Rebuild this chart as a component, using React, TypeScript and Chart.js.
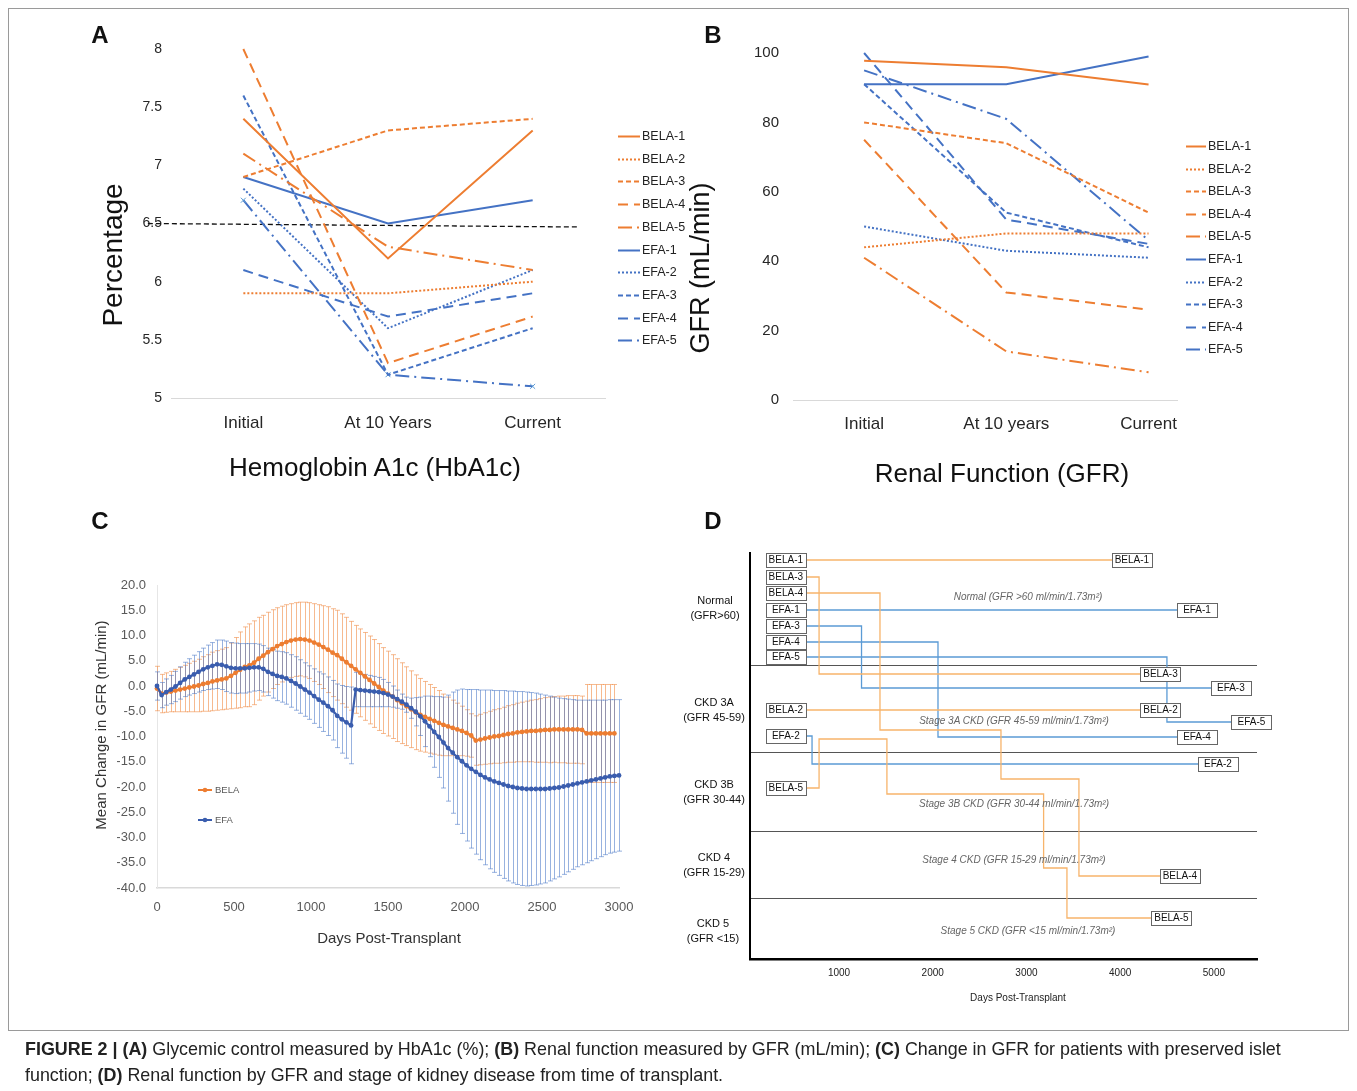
import React, { useEffect, useRef } from "react";
import { Chart, registerables } from "chart.js";
Chart.register(...registerables);

const PAGE_W = 1341;
const PAGE_H = 1075;
const OFF = 8;
const FONT = "'Liberation Sans', Arial, sans-serif";
const ORANGE = "#ED7D31";
const BLUE = "#4472C4";

// ---------- Panel A: HbA1c ----------
const hbCategories = ["Initial", "At 10 Years", "Current"];
const hbTicks = [5, 5.5, 6, 6.5, 7, 7.5, 8];
const hbBELA1 = [7.4, 6.2, 7.3];
const hbBELA2 = [5.9, 5.9, 6.0];
const hbBELA3 = [6.9, 7.3, 7.4];
const hbBELA4 = [8.0, 5.3, 5.7];
const hbBELA5 = [7.1, 6.3, 6.1];
const hbEFA1 = [6.9, 6.5, 6.7];
const hbEFA2 = [6.8, 5.6, 6.1];
const hbEFA3 = [7.6, 5.2, 5.6];
const hbEFA4 = [6.1, 5.7, 5.9];
const hbEFA5 = [6.7, 5.2, 5.1];
const hbTarget = [6.5, 6.47];
const hbTargetSpan = [-0.66, 2.32];

// ---------- Panel B: GFR ----------
const gfrCategories = ["Initial", "At 10 years", "Current"];
const gfrTicks = [0, 20, 40, 60, 80, 100];
const gfrBELA1 = [97.8, 95.9, 90.9];
const gfrBELA2 = [44, 48, 48];
const gfrBELA3 = [80, 74, 54];
const gfrBELA4 = [75, 31, 26];
const gfrBELA5 = [41, 14, 8];
const gfrEFA1 = [91, 91, 99];
const gfrEFA2 = [50, 43, 41];
const gfrEFA3 = [91, 54, 44];
const gfrEFA4 = [100, 52, 45];
const gfrEFA5 = [95, 81, 46];

const seriesNames = ["BELA-1", "BELA-2", "BELA-3", "BELA-4", "BELA-5", "EFA-1", "EFA-2", "EFA-3", "EFA-4", "EFA-5"];
const dashStyles = [[], [2, 2], [5, 3], [10, 6], [14, 5, 2, 5]];

// ---------- Panel C: mean change in GFR ----------
const days = [0, 30, 60, 90, 120, 150, 180, 210, 240, 270, 300, 330, 360, 390, 420, 450, 480, 510, 540, 570,
  600, 630, 660, 690, 720, 750, 780, 810, 840, 870, 900, 930, 960, 990, 1020, 1050, 1080, 1110, 1140, 1170,
  1200, 1230, 1260, 1290, 1320, 1350, 1380, 1410, 1440, 1470, 1500, 1530, 1560, 1590, 1620, 1650, 1680, 1710, 1740, 1770,
  1800, 1830, 1860, 1890, 1920, 1950, 1980, 2010, 2040, 2070, 2100, 2130, 2160, 2190, 2220, 2250, 2280, 2310, 2340, 2370,
  2400, 2430, 2460, 2490, 2520, 2550, 2580, 2610, 2640, 2670, 2700, 2730, 2760, 2790, 2820, 2850, 2880, 2910, 2940, 2970, 3000];
const belaMean = [-0.5, -1.5, -1.3, -1.1, -0.9, -0.7, -0.5, -0.3, -0.1, 0.1,
  0.4, 0.6, 0.9, 1.1, 1.3, 1.5, 2.0, 2.6, 3.2, 3.8,
  4.1, 4.6, 5.4, 6.0, 6.7, 7.3, 7.9, 8.3, 8.7, 9.0,
  9.2, 9.3, 9.2, 9.0, 8.6, 8.2, 7.7, 7.2, 6.6, 6.1,
  5.4, 4.7, 4.0, 3.3, 2.6, 1.9, 1.2, 0.5, -0.2, -0.9,
  -1.5, -2.1, -2.8, -3.4, -4.0, -4.6, -5.2, -5.7, -6.1, -6.5,
  -6.9, -7.3, -7.7, -8.0, -8.3, -8.6, -8.9, -9.3, -9.8, -10.8,
  -10.6, -10.4, -10.2, -10.0, -9.9, -9.7, -9.5, -9.4, -9.2, -9.1,
  -9.0, -8.9, -8.9, -8.8, -8.7, -8.7, -8.6, -8.6, -8.6, -8.6,
  -8.6, -8.6, -8.7, -9.4, -9.4, -9.4, -9.4, -9.4, -9.4, -9.4, null];
const belaErr = [4.4, 3.8, 3.9, 4.0, 4.2, 4.4, 4.6, 4.8, 5.0, 5.2,
  5.4, 5.6, 5.8, 5.9, 6.0, 6.1, 6.5, 7.0, 7.5, 7.9,
  8.2, 8.3, 8.2, 8.0, 7.9, 7.8, 7.6, 7.5, 7.4, 7.3,
  7.3, 7.3, 7.4, 7.5, 7.7, 7.9, 8.2, 8.5, 8.7, 8.9,
  8.9, 8.9, 8.8, 8.7, 8.7, 8.7, 8.7, 8.7, 8.6, 8.5,
  8.4, 8.3, 8.2, 8.0, 7.8, 7.6, 7.4, 7.2, 7.0, 6.8,
  6.6, 6.4, 6.1, 5.8, 5.5, 5.2, 4.9, 4.6, 4.3, 4.9,
  5.0, 5.1, 5.2, 5.3, 5.4, 5.5, 5.6, 5.7, 5.8, 5.9,
  6.0, 6.1, 6.2, 6.3, 6.4, 6.5, 6.5, 6.6, 6.6, 6.7,
  6.7, 6.7, 6.7, 9.7, 9.7, 9.7, 9.7, 9.7, 9.7, 9.7, null];
const efaMean = [0, -1.8, -1.2, -0.7, -0.1, 0.6, 1.3, 1.8, 2.3, 2.8,
  3.3, 3.7, 4.0, 4.3, 4.2, 3.9, 3.6, 3.5, 3.5, 3.5,
  3.6, 3.7, 3.7, 3.4, 2.8, 2.4, 2.0, 1.8, 1.5, 1.0,
  0.5, -0.1, -0.7, -1.3, -2.0, -2.7, -3.3, -4.0, -4.8, -5.9,
  -6.6, -7.2, -7.8, -0.7, -0.8, -0.9, -1.0, -1.1, -1.2, -1.4,
  -1.7, -2.1, -2.6, -3.1, -3.7, -4.4, -5.1, -6.0, -7.0, -8.0,
  -9.1, -10.1, -11.2, -12.3, -13.2, -14.1, -14.9, -15.7, -16.4, -17.0,
  -17.6, -18.1, -18.5, -18.9, -19.2, -19.5, -19.8, -20.0, -20.2, -20.3,
  -20.4, -20.4, -20.4, -20.4, -20.4, -20.3, -20.2, -20.1, -19.9, -19.7,
  -19.5, -19.3, -19.1, -18.9, -18.7, -18.5, -18.3, -18.1, -17.9, -17.8, -17.7];
const efaErr = [2.8, 2.5, 2.6, 2.8, 3.0, 3.2, 3.4, 3.6, 3.8, 4.0,
  4.2, 4.4, 4.6, 4.8, 4.9, 5.0, 5.0, 5.0, 4.9, 4.9,
  4.8, 4.7, 4.6, 4.6, 4.7, 4.8, 4.9, 5.0, 5.1, 5.2,
  5.3, 5.3, 5.3, 5.3, 5.4, 5.5, 5.7, 5.8, 5.9, 6.3,
  6.7, 7.1, 7.6, 3.4, 3.3, 3.2, 3.1, 3.0, 2.9, 2.7,
  2.4, 2.1, 1.8, 1.5, 1.5, 2.0, 2.8, 3.8, 5.0, 6.0,
  7.0, 8.0, 9.0, 10.5, 12.0, 13.3, 14.3, 15.0, 15.7, 16.3,
  16.8, 17.3, 17.7, 18.0, 18.3, 18.6, 18.8, 19.0, 19.1, 19.2,
  19.2, 19.1, 19.0, 18.8, 18.6, 18.3, 18.0, 17.7, 17.4, 17.1,
  16.8, 16.5, 16.3, 16.1, 15.9, 15.7, 15.5, 15.3, 15.2, 15.1, 15.0];
const cTicksX = [0, 500, 1000, 1500, 2000, 2500, 3000];
const cTicksY = [-40, -35, -30, -25, -20, -15, -10, -5, 0, 5, 10, 15, 20];

// ---------- Panel D: CKD stage trajectories ----------
const dTicks = [1000, 2000, 3000, 4000, 5000];
const stageBounds = [112, 199, 278, 345];
const dBELA1Days = [432, 4125];
const dBELA1Lane = [7, 7];
const dBELA2Days = [432, 4430];
const dBELA2Lane = [157, 157];
const dBELA3Days = [432, 787, 4430];
const dBELA3Lane = [24, 121, 121];
const dBELA4Days = [432, 1437, 2728, 3560, 4637];
const dBELA4Lane = [40, 177, 226, 323, 323];
const dBELA5Days = [432, 787, 1511, 3183, 3432, 4547];
const dBELA5Lane = [235, 186, 241, 315, 365, 365];
const dEFA1Days = [432, 4820];
const dEFA1Lane = [57, 57];
const dEFA2Days = [432, 712, 5043];
const dEFA2Lane = [183, 211, 211];
const dEFA3Days = [432, 1240, 5181];
const dEFA3Lane = [73, 135, 135];
const dEFA4Days = [432, 2056, 4820];
const dEFA4Lane = [89, 184, 184];
const dEFA5Days = [432, 4499, 5401];
const dEFA5Lane = [104, 169, 169];

// ---------- helpers ----------
function pad(L: number, T: number, R: number, B: number, yW: number, xH: number) {
  return { left: L - OFF - yW, top: T - OFF, right: OFF + PAGE_W - R, bottom: OFF + PAGE_H - B - xH };
}

const sideLegend = {
  id: "sideLegend",
  afterDraw(chart: any, _a: any, opts: any) {
    if (!opts || !opts.show) return;
    const ctx = chart.ctx;
    let i = 0;
    ctx.save();
    chart.data.datasets.forEach((ds: any) => {
      if (ds.noLegend) return;
      const y = Math.round(opts.y + i * opts.step) + 0.5;
      ctx.strokeStyle = ds.borderColor;
      ctx.lineWidth = 2;
      ctx.lineCap = "butt";
      ctx.setLineDash(ds.borderDash || []);
      ctx.beginPath();
      ctx.moveTo(opts.x, y);
      ctx.lineTo(opts.x + opts.len, y);
      ctx.stroke();
      ctx.setLineDash([]);
      ctx.fillStyle = "#222";
      ctx.font = `${opts.size}px ${FONT}`;
      ctx.textBaseline = "middle";
      ctx.textAlign = "left";
      ctx.fillText(ds.label, opts.x + opts.len + 2, y);
      i++;
    });
    ctx.restore();
  },
};

const errorBars = {
  id: "errorBars",
  beforeDatasetsDraw(chart: any) {
    const ctx = chart.ctx;
    const xs = chart.scales.x;
    const ys = chart.scales.y;
    const list = chart.data.datasets.slice().reverse();
    list.forEach((ds: any) => {
      if (!ds.errors) return;
      ctx.save();
      ctx.strokeStyle = ds.errorColor;
      ctx.lineWidth = 1;
      ds.data.forEach((p: any, i: number) => {
        const e = ds.errors[i];
        if (p.y == null || e == null) return;
        const px = Math.round(xs.getPixelForValue(p.x)) + 0.5;
        const y1 = ys.getPixelForValue(p.y + e);
        const y2 = ys.getPixelForValue(p.y - e);
        ctx.beginPath();
        ctx.moveTo(px, y1);
        ctx.lineTo(px, y2);
        ctx.moveTo(px - 2.5, y1);
        ctx.lineTo(px + 2.5, y1);
        ctx.moveTo(px - 2.5, y2);
        ctx.lineTo(px + 2.5, y2);
        ctx.stroke();
      });
      ctx.restore();
    });
  },
};

const innerLegend = {
  id: "innerLegend",
  afterDraw(chart: any, _a: any, opts: any) {
    if (!opts || !opts.show) return;
    const ctx = chart.ctx;
    ctx.save();
    chart.data.datasets.slice().reverse().forEach((ds: any, i: number) => {
      const y = opts.y + i * opts.step;
      ctx.strokeStyle = ds.borderColor;
      ctx.lineWidth = 2;
      ctx.beginPath();
      ctx.moveTo(opts.x, y);
      ctx.lineTo(opts.x + 14, y);
      ctx.stroke();
      ctx.fillStyle = ds.borderColor;
      ctx.beginPath();
      ctx.arc(opts.x + 7, y, 2.3, 0, Math.PI * 2);
      ctx.fill();
      ctx.fillStyle = "#595959";
      ctx.font = `9.5px ${FONT}`;
      ctx.textBaseline = "middle";
      ctx.fillText(ds.label, opts.x + 17, y);
    });
    ctx.restore();
  },
};

const boxLabels = {
  id: "boxLabels",
  afterDatasetsDraw(chart: any) {
    const ctx = chart.ctx;
    ctx.save();
    chart.data.datasets.forEach((ds: any, i: number) => {
      const meta = chart.getDatasetMeta(i);
      const pts = [meta.data[0], meta.data[meta.data.length - 1]];
      pts.forEach((pt: any) => {
        const w = 40;
        const h = 14;
        const x = Math.round(pt.x - w / 2) + 0.5;
        const y = Math.round(pt.y - h / 2) + 0.5;
        ctx.fillStyle = "#fff";
        ctx.fillRect(x, y, w, h);
        ctx.strokeStyle = "#666";
        ctx.lineWidth = 1;
        ctx.strokeRect(x, y, w, h);
        ctx.fillStyle = "#111";
        ctx.font = `10px ${FONT}`;
        ctx.textAlign = "center";
        ctx.textBaseline = "middle";
        ctx.fillText(ds.label, pt.x, pt.y + 0.5);
      });
    });
    ctx.restore();
  },
};

function lineSeriesDatasets(series: number[][], withMarkers: boolean) {
  return series.map((vals, i) => ({
    label: seriesNames[i],
    data: vals.map((v, j) => ({ x: j, y: v })),
    borderColor: i < 5 ? ORANGE : BLUE,
    backgroundColor: i < 5 ? ORANGE : BLUE,
    borderDash: dashStyles[i % 5],
    borderWidth: 2,
    pointRadius: withMarkers && i === 9 ? 3.5 : 0,
    pointStyle: "crossRot",
    pointBorderColor: "#5B9BD5",
    pointBorderWidth: 1,
    tension: 0,
    fill: false,
    clip: false,
  }));
}

function buildA() {
  const ds: any[] = lineSeriesDatasets(
    [hbBELA1, hbBELA2, hbBELA3, hbBELA4, hbBELA5, hbEFA1, hbEFA2, hbEFA3, hbEFA4, hbEFA5],
    true
  );
  ds.push({
    label: "6.5% target",
    noLegend: true,
    data: hbTargetSpan.map((x, j) => ({ x, y: hbTarget[j] })),
    borderColor: "#111",
    borderDash: [5, 3],
    borderWidth: 1.3,
    pointRadius: 0,
    clip: false,
  });
  return {
    type: "line",
    data: { datasets: ds },
    plugins: [sideLegend],
    options: {
      animation: false,
      responsive: false,
      events: [],
      layout: { padding: pad(171, 49, 605, 398, 40, 60), autoPadding: false },
      plugins: {
        legend: { display: false },
        tooltip: { enabled: false },
        sideLegend: { show: true, x: 610, y: 128, step: 22.7, len: 22, size: 12.5 },
      },
      scales: {
        x: {
          type: "linear",
          min: -0.5,
          max: 2.5,
          afterBuildTicks: (s: any) => { s.ticks = hbCategories.map((_, i) => ({ value: i })); },
          afterFit: (s: any) => { s.height = 60; },
          ticks: { callback: (v: any) => hbCategories[v], font: { family: FONT, size: 17 }, color: "#262626", padding: 15, maxRotation: 0, autoSkip: false },
          grid: { display: false, drawTicks: false },
          border: { color: "#d9d9d9", width: 1 },
        },
        y: {
          min: 5,
          max: 8,
          afterBuildTicks: (s: any) => { s.ticks = hbTicks.map((v) => ({ value: v })); },
          afterFit: (s: any) => { s.width = 40; },
          ticks: { callback: (v: any) => String(v), font: { family: FONT, size: 14 }, color: "#262626", padding: 9 },
          grid: { display: false, drawTicks: false },
          border: { display: false },
        },
      },
    },
  };
}

function buildB() {
  const ds: any[] = lineSeriesDatasets(
    [gfrBELA1, gfrBELA2, gfrBELA3, gfrBELA4, gfrBELA5, gfrEFA1, gfrEFA2, gfrEFA3, gfrEFA4, gfrEFA5],
    false
  );
  return {
    type: "line",
    data: { datasets: ds },
    plugins: [sideLegend],
    options: {
      animation: false,
      responsive: false,
      events: [],
      layout: { padding: pad(793, 53, 1177, 400, 40, 60), autoPadding: false },
      plugins: {
        legend: { display: false },
        tooltip: { enabled: false },
        sideLegend: { show: true, x: 1178, y: 138, step: 22.6, len: 20, size: 12.5 },
      },
      scales: {
        x: {
          type: "linear",
          min: -0.5,
          max: 2.2,
          afterBuildTicks: (s: any) => { s.ticks = gfrCategories.map((_, i) => ({ value: i })); },
          afterFit: (s: any) => { s.height = 60; },
          ticks: { callback: (v: any) => gfrCategories[v], font: { family: FONT, size: 17 }, color: "#262626", padding: 14, maxRotation: 0, autoSkip: false },
          grid: { display: false, drawTicks: false },
          border: { color: "#d9d9d9", width: 1 },
        },
        y: {
          min: 0,
          max: 100,
          afterBuildTicks: (s: any) => { s.ticks = gfrTicks.map((v) => ({ value: v })); },
          afterFit: (s: any) => { s.width = 40; },
          ticks: { callback: (v: any) => String(v), font: { family: FONT, size: 15 }, color: "#262626", padding: 14 },
          grid: { display: false, drawTicks: false },
          border: { display: false },
        },
      },
    },
  };
}

function buildC() {
  const efaColor = "#3A5DAE";
  const belaColor = ORANGE;
  const ds: any[] = [
    {
      label: "EFA",
      data: days.map((d, i) => ({ x: d, y: efaMean[i] })),
      errors: efaErr,
      errorColor: "rgba(68,114,196,0.55)",
      borderColor: efaColor,
      backgroundColor: efaColor,
      borderWidth: 2.2,
      pointRadius: 2.4,
      pointBorderWidth: 0,
      tension: 0,
      clip: false,
    },
    {
      label: "BELA",
      data: days.map((d, i) => ({ x: d, y: belaMean[i] })),
      errors: belaErr,
      errorColor: "rgba(240,140,70,0.6)",
      borderColor: belaColor,
      backgroundColor: belaColor,
      borderWidth: 2.2,
      pointRadius: 2.4,
      pointBorderWidth: 0,
      tension: 0,
      clip: false,
    },
  ];
  return {
    type: "line",
    data: { datasets: ds },
    plugins: [errorBars, innerLegend],
    options: {
      animation: false,
      responsive: false,
      events: [],
      layout: { padding: pad(157, 585, 619, 888, 40, 40), autoPadding: false },
      plugins: {
        legend: { display: false },
        tooltip: { enabled: false },
        innerLegend: { show: true, x: 190, y: 782, step: 30 },
      },
      scales: {
        x: {
          type: "linear",
          min: 0,
          max: 3000,
          afterBuildTicks: (s: any) => { s.ticks = cTicksX.map((v) => ({ value: v })); },
          afterFit: (s: any) => { s.height = 40; },
          ticks: { callback: (v: any) => String(v), font: { family: FONT, size: 13 }, color: "#595959", padding: 12, maxRotation: 0, autoSkip: false },
          grid: { display: false, drawTicks: false },
          border: { color: "#d9d9d9", width: 1.5 },
        },
        y: {
          min: -40,
          max: 20,
          afterBuildTicks: (s: any) => { s.ticks = cTicksY.map((v) => ({ value: v })); },
          afterFit: (s: any) => { s.width = 40; },
          ticks: { callback: (v: any) => Number(v).toFixed(1), font: { family: FONT, size: 13 }, color: "#595959", padding: 11 },
          grid: { display: false, drawTicks: false },
          border: { color: "#e6e6e6", width: 1 },
        },
      },
    },
  };
}

function buildD() {
  const orangeL = "#F7B46B";
  const blueL = "#5B9BD5";
  const tracks: [string, number[], number[]][] = [
    ["BELA-1", dBELA1Days, dBELA1Lane],
    ["BELA-2", dBELA2Days, dBELA2Lane],
    ["BELA-3", dBELA3Days, dBELA3Lane],
    ["BELA-4", dBELA4Days, dBELA4Lane],
    ["BELA-5", dBELA5Days, dBELA5Lane],
    ["EFA-1", dEFA1Days, dEFA1Lane],
    ["EFA-2", dEFA2Days, dEFA2Lane],
    ["EFA-3", dEFA3Days, dEFA3Lane],
    ["EFA-4", dEFA4Days, dEFA4Lane],
    ["EFA-5", dEFA5Days, dEFA5Lane],
  ];
  const ds = tracks.map(([name, dd, ll]) => ({
    label: name,
    data: dd.map((d, i) => ({ x: d, y: ll[i] })),
    borderColor: name.startsWith("BELA") ? orangeL : blueL,
    borderWidth: 1.3,
    pointRadius: 0,
    stepped: true,
    tension: 0,
    clip: false,
  }));
  return {
    type: "line",
    data: { datasets: ds },
    plugins: [boxLabels],
    options: {
      animation: false,
      responsive: false,
      events: [],
      layout: { padding: pad(750, 553, 1257, 959, 10, 30), autoPadding: false },
      plugins: { legend: { display: false }, tooltip: { enabled: false } },
      scales: {
        x: {
          type: "linear",
          min: 50,
          max: 5460,
          afterBuildTicks: (s: any) => { s.ticks = dTicks.map((v) => ({ value: v })); },
          afterFit: (s: any) => { s.height = 30; },
          ticks: { callback: (v: any) => String(v), font: { family: FONT, size: 10 }, color: "#222", padding: 8, maxRotation: 0, autoSkip: false },
          grid: { display: false, drawTicks: false },
          border: { color: "#000", width: 2.5 },
        },
        y: {
          min: 0,
          max: 406,
          reverse: true,
          afterBuildTicks: (s: any) => { s.ticks = stageBounds.map((v) => ({ value: v })); },
          afterFit: (s: any) => { s.width = 10; },
          ticks: { display: false },
          grid: { display: true, drawTicks: false, color: "#555", lineWidth: 1 },
          border: { color: "#000", width: 2 },
        },
      },
    },
  };
}

function ChartLayer({ build }: { build: () => any }) {
  const ref = useRef<HTMLCanvasElement>(null);
  useEffect(() => {
    const chart = new Chart(ref.current as HTMLCanvasElement, build());
    return () => chart.destroy();
  }, []);
  return (
    <canvas
      ref={ref}
      width={PAGE_W}
      height={PAGE_H}
      style={{ position: "absolute", left: 0, top: 0, width: PAGE_W, height: PAGE_H }}
    />
  );
}

function Txt(props: {
  x: number; y: number; size: number; children: React.ReactNode;
  bold?: boolean; italic?: boolean; rotate?: boolean; color?: string; lh?: number;
}) {
  const { x, y, size, bold, italic, rotate, color, lh } = props;
  return (
    <div
      style={{
        position: "absolute",
        left: x - OFF,
        top: y - OFF,
        transform: `translate(-50%, -50%)${rotate ? " rotate(-90deg)" : ""}`,
        fontFamily: FONT,
        fontSize: size,
        fontWeight: bold ? 700 : 400,
        fontStyle: italic ? "italic" : "normal",
        color: color || "#111",
        whiteSpace: "nowrap",
        lineHeight: lh ? `${lh}px` : 1,
        textAlign: "center",
      }}
    >
      {props.children}
    </div>
  );
}

export default function App() {
  return (
    <div style={{ position: "relative", width: PAGE_W, height: 1083, background: "#fff", overflow: "hidden" }}>
      <div
        style={{
          position: "absolute", left: 0, top: 0, width: PAGE_W, height: 1023,
          border: "1px solid #9a9a9a", boxSizing: "border-box",
        }}
      />
      <ChartLayer build={buildA} />
      <ChartLayer build={buildB} />
      <ChartLayer build={buildC} />
      <ChartLayer build={buildD} />

      <Txt x={100} y={35} size={24} bold>A</Txt>
      <Txt x={713} y={35} size={24} bold>B</Txt>
      <Txt x={100} y={521} size={24} bold>C</Txt>
      <Txt x={713} y={521} size={24} bold>D</Txt>

      <Txt x={113} y={255} size={28} rotate>Percentage</Txt>
      <Txt x={375} y={467} size={26}>Hemoglobin A1c (HbA1c)</Txt>
      <Txt x={700} y={268} size={27} rotate>GFR (mL/min)</Txt>
      <Txt x={1002} y={473} size={26}>Renal Function (GFR)</Txt>

      <Txt x={100} y={725} size={15} rotate color="#333">Mean Change in GFR (mL/min)</Txt>
      <Txt x={389} y={937} size={15} color="#333">Days Post-Transplant</Txt>

      <Txt x={1018} y={998} size={10} color="#222">Days Post-Transplant</Txt>
      <Txt x={715} y={608} size={11} lh={15}>Normal<br />(GFR&gt;60)</Txt>
      <Txt x={714} y={710} size={11} lh={15}>CKD 3A<br />(GFR 45-59)</Txt>
      <Txt x={714} y={792} size={11} lh={15}>CKD 3B<br />(GFR 30-44)</Txt>
      <Txt x={714} y={865} size={11} lh={15}>CKD 4<br />(GFR 15-29)</Txt>
      <Txt x={713} y={931} size={11} lh={15}>CKD 5<br />(GFR &lt;15)</Txt>

      <Txt x={1028} y={597} size={10} italic color="#666">Normal (GFR &gt;60 ml/min/1.73m²)</Txt>
      <Txt x={1014} y={721} size={10} italic color="#666">Stage 3A CKD (GFR 45-59 ml/min/1.73m²)</Txt>
      <Txt x={1014} y={804} size={10} italic color="#666">Stage 3B CKD (GFR 30-44 ml/min/1.73m²)</Txt>
      <Txt x={1014} y={860} size={10} italic color="#666">Stage 4 CKD (GFR 15-29 ml/min/1.73m²)</Txt>
      <Txt x={1028} y={931} size={10} italic color="#666">Stage 5 CKD (GFR &lt;15 ml/min/1.73m²)</Txt>

      <div
        style={{
          position: "absolute", left: 25 - OFF, top: 1036 - OFF,
          fontFamily: FONT, fontSize: 17.9, lineHeight: "26px", color: "#222", whiteSpace: "nowrap",
        }}
      >
        <b>FIGURE 2 | (A)</b> Glycemic control measured by HbA1c (%); <b>(B)</b> Renal function measured by GFR (mL/min); <b>(C)</b> Change in GFR for patients with preserved islet
        <br />
        function; <b>(D)</b> Renal function by GFR and stage of kidney disease from time of transplant.
      </div>
    </div>
  );
}
